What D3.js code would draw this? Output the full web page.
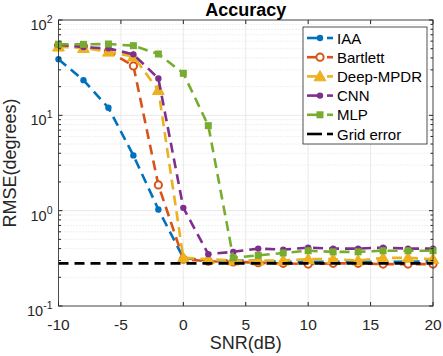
<!DOCTYPE html>
<html><head><meta charset="utf-8">
<script src="https://cdn.jsdelivr.net/npm/d3@7"></script>
<style>body{margin:0;background:#fff;} svg{display:block;font-family:"Liberation Sans",Arial,sans-serif;}</style>
</head><body>
<svg id="c" width="443" height="356"></svg>
<script>
const snr = [-10,-8,-6,-4,-2,0,2,4,6,8,10,12,14,16,18,20];
const iaa      = [38.7,23.4,12,3.8,1.03,0.32,0.30,0.30,0.30,0.29,0.29,0.29,0.29,0.29,0.29,0.295];
const bartlett = [54,53,47,33,1.86,0.31,0.295,0.29,0.285,0.28,0.275,0.28,0.28,0.275,0.275,0.275];
const deepmpdr = [52.5,50.8,46.5,41.3,18.4,0.32,0.31,0.30,0.30,0.30,0.31,0.31,0.30,0.32,0.32,0.31];
const cnn      = [55,52,50.4,43.6,24.4,1.07,0.35,0.37,0.40,0.39,0.41,0.40,0.40,0.41,0.40,0.40];
const mlp      = [55.7,55.5,56,53.8,44,27.6,7.8,0.32,0.34,0.36,0.38,0.37,0.37,0.38,0.38,0.38];
const gridError = 0.28;
const xTicks = [-10,-5,0,5,10,15,20];
const yTicks = [0.1,1,10,100];
const seriesNames = ["IAA","Bartlett","Deep-MPDR","CNN","MLP","Grid error"];
const colors = ["#0072BD","#D95319","#EDB120","#7E2F8E","#77AC30","#000000"];
const markers = ["dot","circle","triangle","dot","square","none"];

const svg = d3.select("#c");
const L=58.5, R=433, T=20, B=306;
const x = d3.scaleLinear().domain([-10,20]).range([L,R]);
const y = d3.scaleLog().domain([0.1,100]).range([B,T]);
const axisCol = "#262626";

// grid
const g = svg.append("g");
for (let e=-1;e<2;e++){ for(let k=2;k<=9;k++){ const v=k*Math.pow(10,e);
  g.append("line").attr("x1",L).attr("x2",R).attr("y1",y(v)).attr("y2",y(v))
   .attr("stroke","#d4d4d4").attr("stroke-width",0.7).attr("stroke-dasharray","1,2");
}}
yTicks.forEach(v=>g.append("line").attr("x1",L).attr("x2",R).attr("y1",y(v)).attr("y2",y(v)).attr("stroke","#e3e3e3").attr("stroke-width",0.8));
xTicks.forEach(v=>g.append("line").attr("y1",T).attr("y2",B).attr("x1",x(v)).attr("x2",x(v)).attr("stroke","#e3e3e3").attr("stroke-width",0.8));

// series
const data = [iaa,bartlett,deepmpdr,cnn,mlp];
const line = d3.line().x((d,i)=>x(snr[i])).y(d=>y(d));
const dash = "10,6";
function drawMarker(sel, type, cx, cy, col){
  if(type==="dot") sel.append("circle").attr("cx",cx).attr("cy",cy).attr("r",3.2).attr("fill",col);
  else if(type==="circle") sel.append("circle").attr("cx",cx).attr("cy",cy).attr("r",3.6).attr("fill","#fff").attr("stroke",col).attr("stroke-width",2);
  else if(type==="triangle") sel.append("path").attr("d",d3.symbol(d3.symbolTriangle,60)()).attr("transform",`translate(${cx},${cy+1})`).attr("fill",col).attr("stroke",col).attr("stroke-width",1);
  else if(type==="square") sel.append("rect").attr("x",cx-3.5).attr("y",cy-3.5).attr("width",7).attr("height",7).attr("fill",col);
}
const pg = svg.append("g");
data.forEach((s,k)=>{
  pg.append("path").attr("d",line(s)).attr("fill","none").attr("stroke",colors[k]).attr("stroke-width",2.6).attr("stroke-dasharray",dash);
  s.forEach((v,i)=>drawMarker(pg,markers[k],x(snr[i]),y(v),colors[k]));
});
pg.append("line").attr("x1",L).attr("x2",R).attr("y1",y(gridError)).attr("y2",y(gridError)).attr("stroke","#000").attr("stroke-width",2.6).attr("stroke-dasharray",dash);

// axes box
const ax = svg.append("g");
ax.append("rect").attr("x",L).attr("y",T).attr("width",R-L).attr("height",B-T).attr("fill","none").attr("stroke",axisCol).attr("stroke-width",0.8);
xTicks.forEach(v=>{
  ax.append("line").attr("x1",x(v)).attr("x2",x(v)).attr("y1",B).attr("y2",B-4).attr("stroke",axisCol);
  ax.append("line").attr("x1",x(v)).attr("x2",x(v)).attr("y1",T).attr("y2",T+4).attr("stroke",axisCol);
  ax.append("text").attr("x",x(v)).attr("y",B+24).attr("text-anchor","middle").attr("font-size",15.5).attr("fill",axisCol).text(v);
});
for (let e=-1;e<2;e++){ for(let k=2;k<=9;k++){ const v=k*Math.pow(10,e);
  ax.append("line").attr("x1",L).attr("x2",L+2.5).attr("y1",y(v)).attr("y2",y(v)).attr("stroke",axisCol);
  ax.append("line").attr("x1",R).attr("x2",R-2.5).attr("y1",y(v)).attr("y2",y(v)).attr("stroke",axisCol);
}}
yTicks.forEach(v=>{
  ax.append("line").attr("x1",L).attr("x2",L+4).attr("y1",y(v)).attr("y2",y(v)).attr("stroke",axisCol);
  ax.append("line").attr("x1",R).attr("x2",R-4).attr("y1",y(v)).attr("y2",y(v)).attr("stroke",axisCol);
  const t = ax.append("text").attr("x",L-6).attr("y",y(v)+10).attr("text-anchor","end").attr("font-size",14.5).attr("fill",axisCol);
  t.append("tspan").text("10");
  t.append("tspan").attr("dy",-7).attr("font-size",10.5).text(Math.round(Math.log10(v)));
});

// labels
svg.append("text").attr("x",(L+R)/2).attr("y",349).attr("text-anchor","middle").attr("font-size",18).attr("fill",axisCol).text("SNR(dB)");
svg.append("text").attr("transform",`translate(16,${(T+B)/2}) rotate(-90)`).attr("text-anchor","middle").attr("font-size",18).attr("fill",axisCol).text("RMSE(degrees)");
svg.append("text").attr("x",(L+R)/2).attr("y",16).attr("text-anchor","middle").attr("font-size",18).attr("font-weight","bold").attr("fill","#000").text("Accuracy");

// legend
const lg = svg.append("g");
const lx=303, ly=27, lw=124, lh=117;
lg.append("rect").attr("x",lx).attr("y",ly).attr("width",lw).attr("height",lh).attr("fill","#fff").attr("stroke",axisCol).attr("stroke-width",0.8);
seriesNames.forEach((n,k)=>{
  const yy = 38 + k*19.2;
  lg.append("line").attr("x1",307).attr("x2",322).attr("y1",yy).attr("y2",yy).attr("stroke",colors[k]).attr("stroke-width",2.6);
  lg.append("line").attr("x1",327).attr("x2",333).attr("y1",yy).attr("y2",yy).attr("stroke",colors[k]).attr("stroke-width",2.6);
  if(markers[k]!=="none") drawMarker(lg,markers[k],320,yy,colors[k]);
  lg.append("text").attr("x",337).attr("y",yy+5.5).attr("font-size",15).attr("fill","#000").text(n);
});
</script>
</body></html>
